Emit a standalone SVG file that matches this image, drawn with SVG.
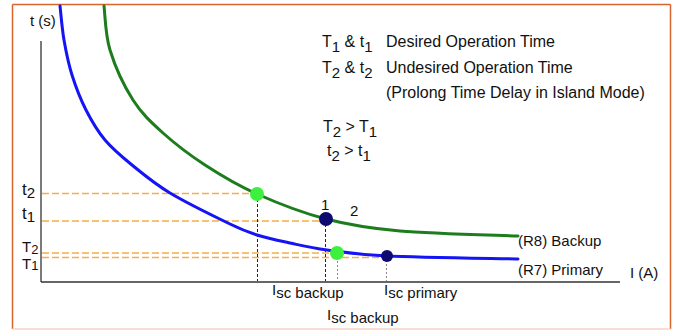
<svg xmlns="http://www.w3.org/2000/svg" width="674" height="331" viewBox="0 0 674 331">
  <style>
    text { font-family: "Liberation Sans", Arial, sans-serif; fill: #111; }
    .lbl { font-size: 15px; }
    .big { font-size: 16px; }
    .axis { stroke: #333; stroke-width: 1.3; fill: none; }
    .lvl { stroke: #f2b04a; stroke-width: 1.6; stroke-dasharray: 7 3; fill: none; }
    .drop { stroke: #222; stroke-width: 1; stroke-dasharray: 3 2; fill: none; }
    .dropg { stroke: #888; stroke-width: 1; stroke-dasharray: 2 2; fill: none; }
    .curve { stroke-width: 3; fill: none; stroke-linecap: round; }
  </style>

  <!-- frame -->
  <g id="frame">
    <rect x="0" y="0" width="674" height="331" fill="#ffffff"/>
    <line x1="12.5" y1="4.5" x2="670.5" y2="4.5" stroke="#d8652e" stroke-width="1.5"/>
    <line x1="12.5" y1="4.5" x2="12.5" y2="329" stroke="#d8652e" stroke-width="1.5"/>
    <line x1="670.5" y1="4.5" x2="670.5" y2="329" stroke="#d8652e" stroke-width="1.5"/>
    <line x1="12.5" y1="329" x2="670.5" y2="329" stroke="#f4d2c3" stroke-width="1.5"/>
  </g>

  <!-- axes -->
  <g id="axes">
    <line class="axis" x1="41" y1="41" x2="41" y2="282"/>
    <line class="axis" x1="41" y1="282" x2="620" y2="282"/>
    <text class="lbl" x="30" y="26">t (s)</text>
    <text class="lbl" x="630" y="278">I (A)</text>
  </g>

  <!-- connectors: level and drop lines -->
  <g id="connectors">
    <line class="lvl" x1="42" y1="193.5" x2="257" y2="193.5"/>
    <line class="lvl" x1="42" y1="221" x2="325" y2="221"/>
    <line class="lvl" x1="42" y1="253" x2="337" y2="253"/>
    <line class="lvl" x1="42" y1="257.5" x2="386" y2="257.5"/>
    <line class="drop" x1="257.5" y1="194" x2="257.5" y2="281"/>
    <line class="drop" x1="325.5" y1="219" x2="325.5" y2="281"/>
    <line class="dropg" x1="337.5" y1="253" x2="337.5" y2="281"/>
    <line class="dropg" x1="386.5" y1="256" x2="386.5" y2="281"/>
  </g>

  <!-- primary relay curve (R7) -->
  <g id="curve-r7">
    <path class="curve" stroke="#1414f5" d="M60,6 C60.7,11.7 62,28.5 64,40 C66,51.5 68.3,63.3 72,75 C75.7,86.7 80.5,99.2 86,110 C91.5,120.8 97.3,130.8 105,140 C112.7,149.2 121.2,156.2 132,165 C142.8,173.8 153.7,183.2 170,193 C186.3,202.8 215.5,217 230,224 C244.5,231 247,231.8 257,235 C267,238.2 278.3,240.5 290,243 C301.7,245.5 310.8,247.8 327,250 C343.2,252.2 355.2,254.5 387,256 C418.8,257.5 496.2,258.5 518,259"/>
    <text class="lbl" x="518" y="275">(R7) Primary</text>
  </g>

  <!-- backup relay curve (R8) -->
  <g id="curve-r8">
    <path class="curve" stroke="#1d7d1d" d="M104,6 C105,13.3 105.2,34.3 110,50 C114.8,65.7 124.2,86.2 133,100 C141.8,113.8 151,122.2 163,133 C175,143.8 189.3,154.8 205,165 C220.7,175.2 236.8,185 257,194 C277.2,203 302.2,212.8 326,219 C349.8,225.2 368,228.2 400,231 C432,233.8 498.3,235.2 518,236"/>
    <text class="lbl" x="518" y="246">(R8) Backup</text>
  </g>

  <!-- operating points -->
  <g id="point-t2">
    <circle cx="257" cy="194" r="7" fill="#3ef03e"/>
  </g>
  <g id="point-1">
    <circle cx="326" cy="219" r="7" fill="#0b0b70"/>
    <text class="lbl" x="321" y="210">1</text>
  </g>
  <g id="point-2">
    <text class="lbl" x="350" y="216">2</text>
  </g>
  <g id="point-T2">
    <circle cx="337" cy="253" r="7" fill="#3ef03e"/>
  </g>
  <g id="point-T1">
    <circle cx="387" cy="256" r="6" fill="#0b0b70"/>
  </g>

  <!-- time labels on the vertical axis -->
  <g id="ylabels">
    <text font-size="17" x="22" y="195">t<tspan font-size="15" dy="3">2</tspan></text>
    <text font-size="17" x="22" y="219">t<tspan font-size="15" dy="3">1</tspan></text>
    <text class="lbl" x="22" y="252">T<tspan font-size="13" dy="2">2</tspan></text>
    <text class="lbl" x="22" y="269">T<tspan font-size="13" dy="1">1</tspan></text>
  </g>

  <!-- current labels on the horizontal axis -->
  <g id="xlabels">
    <text class="lbl" x="272" y="295">I<tspan dy="3">sc backup</tspan></text>
    <text class="lbl" x="384" y="295">I<tspan dy="3">sc primary</tspan></text>
    <text class="lbl" x="327" y="320">I<tspan dy="3">sc backup</tspan></text>
  </g>

  <!-- legend -->
  <g id="legend">
    <text class="big" x="322" y="47">T<tspan font-size="15" dy="5">1</tspan><tspan dy="-5"> &amp; t</tspan><tspan font-size="15" dy="5">1</tspan></text>
    <text class="big" x="386" y="47">Desired Operation Time</text>
    <text class="big" x="322" y="73">T<tspan font-size="15" dy="5">2</tspan><tspan dy="-5"> &amp; t</tspan><tspan font-size="15" dy="5">2</tspan></text>
    <text class="big" x="386" y="73">Undesired Operation Time</text>
    <text class="big" x="386" y="98">(Prolong Time Delay in Island Mode)</text>
    <text class="big" x="323" y="132">T<tspan font-size="15" dy="5">2</tspan><tspan dy="-5"> &gt; T</tspan><tspan font-size="15" dy="5">1</tspan></text>
    <text class="big" x="327" y="156">t<tspan font-size="15" dy="5">2</tspan><tspan dy="-5"> &gt; t</tspan><tspan font-size="15" dy="5">1</tspan></text>
  </g>
</svg>
